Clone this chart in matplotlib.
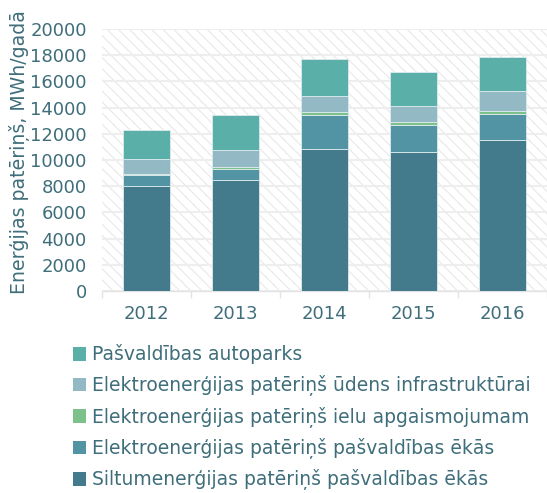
import matplotlib
matplotlib.use("Agg")
import matplotlib.pyplot as plt
from matplotlib.patches import Patch
import numpy as np

years = ["2012", "2013", "2014", "2015", "2016"]
series_names = [
    "Siltumenerģijas patēriņš pašvaldības ēkās",
    "Elektroenerģijas patēriņš pašvaldības ēkās",
    "Elektroenerģijas patēriņš ielu apgaismojumam",
    "Elektroenerģijas patēriņš ūdens infrastruktūrai",
    "Pašvaldības autoparks",
]
siltum = [8000, 8460, 10820, 10620, 11530]
elek_ekas = [840, 890, 2610, 2020, 2000]
elek_ielu = [100, 150, 200, 230, 230]
elek_udens = [1150, 1290, 1290, 1250, 1500]
autoparks = [2230, 2640, 2810, 2580, 2580]
yticks = [0, 2000, 4000, 6000, 8000, 10000, 12000, 14000, 16000, 18000, 20000]

colors = ["#437A8C", "#5294A4", "#7CC18A", "#93BAC4", "#5AB0A8"]
text_color = "#3F6E7B"

plt.rcParams['font.family'] = ['DejaVu Sans']
plt.rcParams['hatch.color'] = '#E8E8E8'
plt.rcParams['hatch.linewidth'] = 0.8

fig = plt.figure(figsize=(5.47, 4.93), dpi=100)
ax = fig.add_axes([102/547, 1 - 291/493, 1 - 102/547, (291 - 29)/493])

ax.patch.set_facecolor('white')
ax.patch.set_hatch('\\\\\\')
ax.patch.set_edgecolor('#E8E8E8')

x = np.arange(len(years))
data = [siltum, elek_ekas, elek_ielu, elek_udens, autoparks]
bottom = np.zeros(len(years))
for vals, c in zip(data, colors):
    ax.bar(x, vals, width=0.52, bottom=bottom, color=c, edgecolor='#DDEBEE',
           linewidth=0.6, zorder=3)
    bottom += np.array(vals)

ax.set_ylim(0, 20000)
ax.set_xlim(-0.5, len(years) - 0.5)
ax.set_yticks(yticks)
ax.set_yticklabels([str(v) for v in yticks])
ax.set_xticks(x)
ax.set_xticklabels(years)
ax.set_xticks(np.arange(-0.5, len(years)), minor=True)
ax.tick_params(axis='x', which='major', length=0, pad=10, labelsize=13, labelcolor=text_color)
ax.tick_params(axis='x', which='minor', length=5, width=1, color='#E3E3E3')
ax.tick_params(axis='y', length=0, pad=11, labelsize=13, labelcolor=text_color)
ax.grid(axis='y', color='#EEEEEE', linewidth=1.5, zorder=1)
ax.set_axisbelow(True)
for s in ['top', 'right', 'left']:
    ax.spines[s].set_visible(False)
ax.spines['bottom'].set_color('#E3E3E3')
ax.spines['bottom'].set_linewidth(1)

fig.text(20/547, 1 - 152/493, "Enerģijas patēriņš, MWh/gadā", rotation=90,
         fontsize=13.6, color=text_color, ha='center', va='center')

handles = [Patch(facecolor=c, edgecolor='none') for c in colors][::-1]
labels = series_names[::-1]
leg = fig.legend(handles, labels, loc='upper left', bbox_to_anchor=(65/547, 1 - 337/493),
                 frameon=False, fontsize=13.5, labelcolor=text_color, handlelength=0.7,
                 handleheight=0.7, handletextpad=0.35, labelspacing=0.56, borderaxespad=0)

fig.savefig("out.png", dpi=100)
